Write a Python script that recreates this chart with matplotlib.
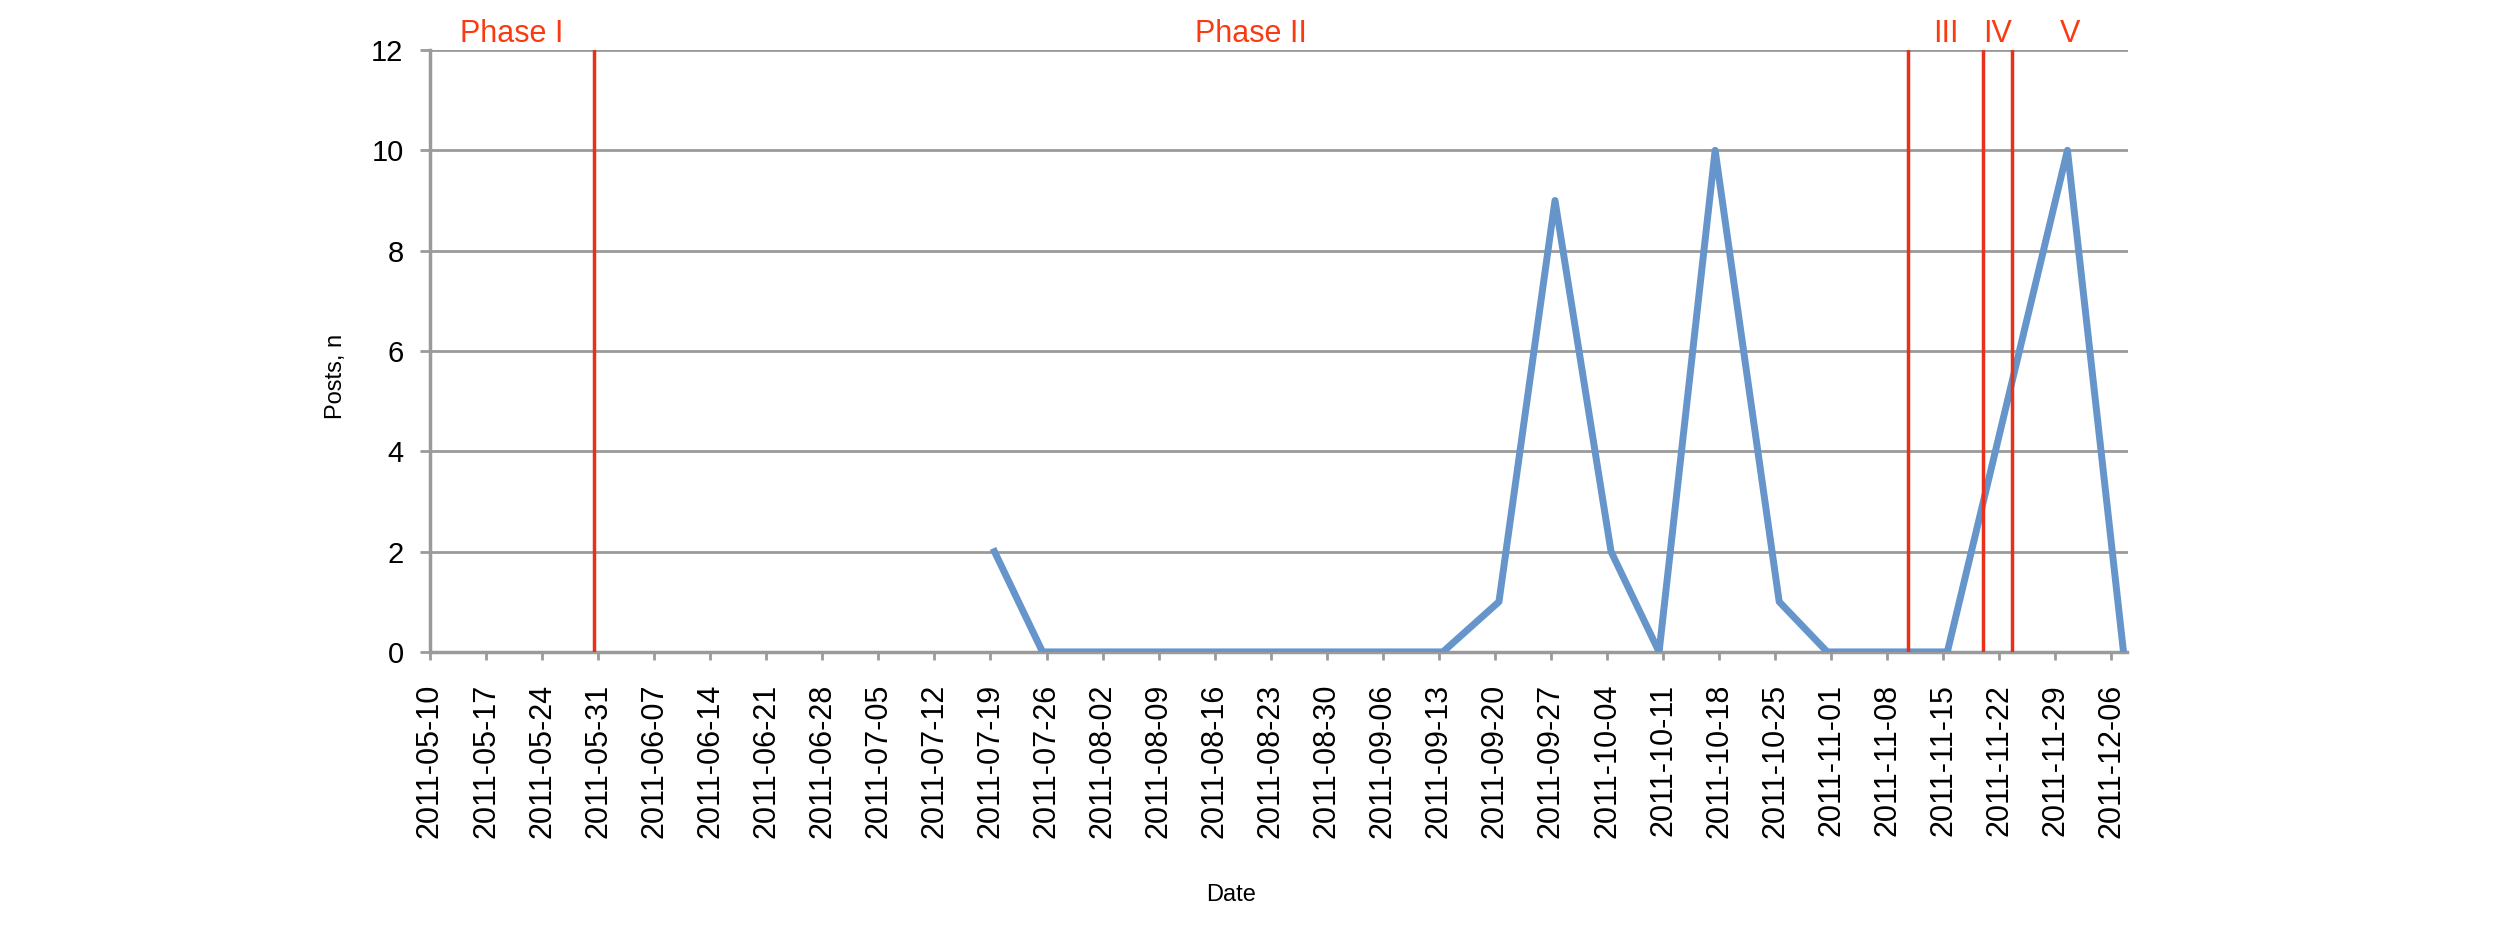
import matplotlib
matplotlib.use('Agg')
import matplotlib.pyplot as plt
import numpy as np

plt.rcParams['font.family'] = ['Liberation Sans', 'DejaVu Sans']

# weekly tick dates on the date axis
tick_dates = ['2011-05-10', '2011-05-17', '2011-05-24', '2011-05-31', '2011-06-07', '2011-06-14',
              '2011-06-21', '2011-06-28', '2011-07-05', '2011-07-12', '2011-07-19', '2011-07-26',
              '2011-08-02', '2011-08-09', '2011-08-16', '2011-08-23', '2011-08-30', '2011-09-06',
              '2011-09-13', '2011-09-20', '2011-09-27', '2011-10-04', '2011-10-11', '2011-10-18',
              '2011-10-25', '2011-11-01', '2011-11-08', '2011-11-15', '2011-11-22', '2011-11-29',
              '2011-12-06']
axis_end = '2011-12-08'

# posts series (dates of points, count of posts)
post_dates = ['2011-07-19', '2011-07-25', '2011-09-13', '2011-09-20', '2011-09-27', '2011-10-04',
              '2011-10-10', '2011-10-17', '2011-10-25', '2011-10-31', '2011-11-15', '2011-11-30',
              '2011-12-07']
posts = [2, 0, 0, 1, 9, 2, 0, 10, 1, 0, 0, 10, 0]

# phase boundaries and labels
phase_bounds = ['2011-05-30 12:00', '2011-11-10 14:00', '2011-11-20 00:00', '2011-11-23 14:00']
phase_labels = ['Phase I', 'Phase II', 'III', 'IV', 'V']

start = np.datetime64(tick_dates[0], 'h')


def days(d):
    return (np.array(d, dtype='datetime64[h]') - start) / np.timedelta64(1, 'D')


tick_x = days(tick_dates)
end_x = float(days([axis_end])[0])
post_x = days(post_dates) + 0.5   # points sit in the middle of their day
bound_x = days(phase_bounds)

fig = plt.figure(figsize=(25, 9.26), dpi=100)
ax = fig.add_axes([0.172, 0.296, 0.679, 0.65])

ax.plot(post_x, posts, color='#6595ca', linewidth=5, zorder=3)

for xl in bound_x:
    ax.axvline(xl, color='#e8301a', linewidth=2.5, zorder=4)

edges = np.concatenate([[0], bound_x, [end_x]])
for lab, a, b in zip(phase_labels, edges[:-1], edges[1:]):
    ax.text((a + b) / 2, 12.16, lab, color='#fa3a12', fontsize=22, ha='center', va='baseline')

ax.set_xlim(0, end_x)
ax.set_ylim(0, 12)
ax.set_yticks(range(0, 13, 2))
ax.set_xticks(tick_x)
ax.set_xticklabels(tick_dates, rotation=90, fontsize=22)
ax.tick_params(axis='y', labelsize=21, length=7, width=2, color='#9a9a9a', pad=12)
ax.tick_params(axis='x', length=6, width=2, color='#9a9a9a', pad=17)

ax.grid(axis='y', color='#9a9a9a', linewidth=2)
ax.set_axisbelow(True)
for s in ['top', 'right']:
    ax.spines[s].set_visible(False)
for s in ['left', 'bottom']:
    ax.spines[s].set_color('#9a9a9a')
    ax.spines[s].set_linewidth(2.5)

ax.set_ylabel('Posts, n', fontsize=17)
ax.yaxis.set_label_coords(-0.049, 0.458)
ax.set_xlabel('Date', fontsize=17)
ax.xaxis.set_label_coords(0.472, -0.385)

fig.savefig('out.png', dpi=100)
